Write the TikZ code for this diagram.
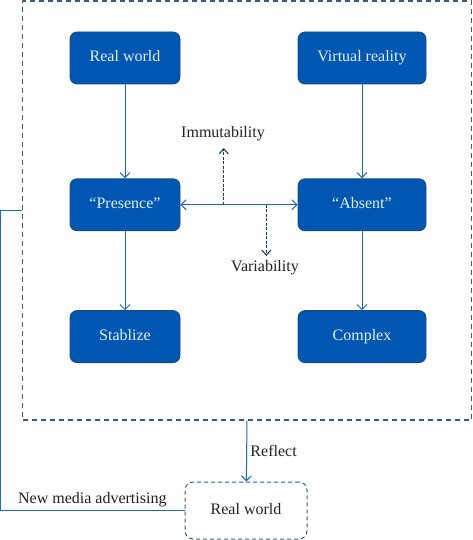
\documentclass[tikz,border=0pt]{standalone}
\usepackage{fontspec}
\setmainfont{Liberation Serif}
\usepackage{xcolor}
\usetikzlibrary{arrows.meta,positioning,calc}
\definecolor{boxblue}{HTML}{0057B1}
\definecolor{boxedge}{HTML}{1D4A7A}
\definecolor{linkblue}{HTML}{2068C0}
\definecolor{framegray}{HTML}{3C5A80}
\definecolor{trendnavy}{HTML}{1F3A64}
\definecolor{textlight}{HTML}{E4F0FF}
\definecolor{inkgray}{HTML}{231F20}

\begin{document}
\begin{tikzpicture}[x=1pt,y=1pt,node distance=5mm,
    font=\fontsize{16}{19}\selectfont,text=inkgray,
    stage/.style={draw=boxedge,fill=boxblue,text=textlight,rounded corners=7pt,
      minimum height=52pt,line width=0.8pt,text height=11pt,text depth=3pt},
    link/.style={draw=linkblue,line width=1pt},
    barb/.tip={Straight Barb[length=5pt,width=10pt]},
    trend/.style={draw=trendnavy,line width=1.1pt,dash pattern=on 3pt off 1.5pt,
      -{Straight Barb[length=5pt,width=9pt]}}]
  \useasboundingbox (0,0) rectangle (473,-540);
  \node (frame) [draw=framegray,line width=1.2pt,dash pattern=on 5pt off 4pt,
    minimum width=449pt,minimum height=419pt] at (247,-210.5) {};
  \node (real) [stage,minimum width=110pt] at (125,-58) {Real world};
  \node (presence) [stage,minimum width=110pt,below=94pt of real] {“Presence”};
  \node (stable) [stage,minimum width=110pt,below=79pt of presence] {Stablize};
  \node (virtual) [stage,minimum width=128pt] at (362,-58) {Virtual reality};
  \node (absent) [stage,minimum width=128pt,below=94pt of virtual] {“Absent”};
  \node (complex) [stage,minimum width=128pt,below=79pt of absent] {Complex};
  \node (realb) [draw=framegray,line width=1pt,dash pattern=on 4pt off 3pt,
    rounded corners=8pt,minimum width=122pt,minimum height=57pt,
    text height=11pt,text depth=3pt] at (246,-510.5) {Real world};
  \coordinate (up) at ($(presence.east)!0.37!(absent.west)$);
  \coordinate (down) at ($(presence.east)!0.733!(absent.west)$);
  \node (immut) at (223,-134) {Immutability};
  \node (vari) at (265,-268) {Variability};
  \draw[link,-barb] (real) -- (presence);
  \draw[link,-barb] (presence) -- (stable);
  \draw[link,-barb] (virtual) -- (absent);
  \draw[link,-barb] (absent) -- (complex);
  \draw[link,barb-barb] (presence) -- (absent);
  \draw[link,-barb] (frame.south) -- node[right,text=inkgray] {Reflect} (realb);
  \draw[trend] (up) -- (up |- 0,-148);
  \draw[trend] (down) -- (down |- 0,-256);
  \draw[link] (realb.west) -- node[above,pos=0.5,text=inkgray] {New media advertising} ++(-184.3,0)
    |- (frame.west);
\end{tikzpicture}
\end{document}
